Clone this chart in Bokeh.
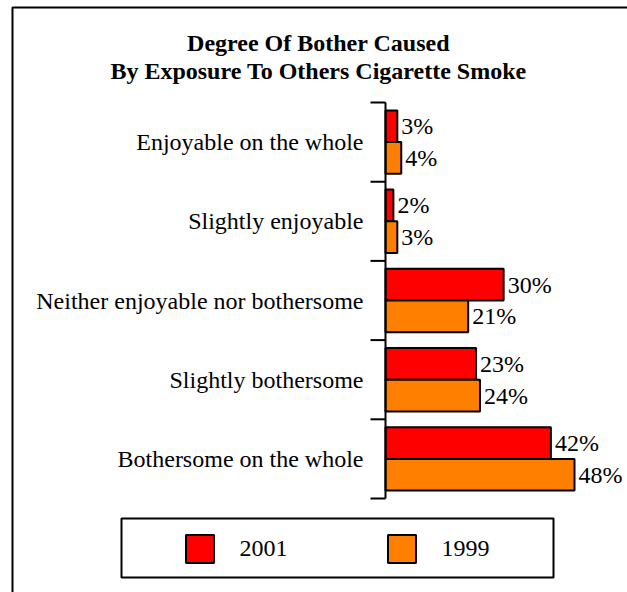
import math
from bokeh.plotting import figure
from bokeh.models import (Range1d, ColumnDataSource, Label, Legend,
                          LegendItem, BoxAnnotation)
from bokeh.core.properties import value
from bokeh.embed import file_html
from bokeh.resources import INLINE

categories = ["Enjoyable on the whole", "Slightly enjoyable",
              "Neither enjoyable nor bothersome", "Slightly bothersome",
              "Bothersome on the whole"]
values_2001 = [3, 2, 30, 23, 42]
values_1999 = [4, 3, 21, 24, 48]
series_names = ["2001", "1999"]
title_lines = ["Degree Of Bother Caused", "By Exposure To Others Cigarette Smoke"]

FONT = "Liberation Serif"
RED = "#FF0000"
ORANGE = "#FF8000"

n = len(categories)
centers = [n - 0.5 - i for i in range(n)]

W, H = 627, 592
# pixel geometry of the plotting area (axis at x=385, categories from y=102 to y=498)
AX_X, AX_TOP, AX_BOTTOM = 385, 102, 498
PX_PER_X = 3.9375
PX_PER_Y = (AX_BOTTOM - AX_TOP) / n


def px_to_x(px):
    return (px - AX_X) / PX_PER_X


def px_to_y(py):
    return (AX_BOTTOM - py) / PX_PER_Y


p = figure(width=W, height=H, output_backend="svg", toolbar_location=None,
           x_range=Range1d(px_to_x(0), px_to_x(W)),
           y_range=Range1d(px_to_y(H), px_to_y(0)),
           x_axis_location=None, y_axis_location=None, min_border=0)
p.outline_line_color = None
p.grid.visible = False
p.background_fill_color = "white"
p.border_fill_color = "white"

src = ColumnDataSource(dict(
    y21=[c + 0.2 for c in centers],
    y99=[c - 0.2 for c in centers],
    v21=values_2001,
    v99=values_1999,
    t21=[f"{v}%" for v in values_2001],
    t99=[f"{v}%" for v in values_1999],
))

r21 = p.hbar(y="y21", left=0, right="v21", height=0.4, source=src,
             fill_color=RED, line_color="black", line_width=2)
r99 = p.hbar(y="y99", left=0, right="v99", height=0.4, source=src,
             fill_color=ORANGE, line_color="black", line_width=2)

for ycol, tcol, vcol in (("y21", "t21", "v21"), ("y99", "t99", "v99")):
    p.text(x=vcol, y=ycol, text=tcol, source=src, x_offset=4,
           text_baseline="middle", text_align="left",
           text_font=value(FONT), text_font_size="24px", text_color="black")

# category axis: line, boundary ticks and labels
cat_src = ColumnDataSource(dict(y=centers, label=categories))
p.text(x=0, y="y", text="label", source=cat_src, x_offset=-22,
       text_align="right", text_baseline="middle",
       text_font=value(FONT), text_font_size="24px", text_color="black")
p.segment(x0=0, y0=0, x1=0, y1=n, line_color="black", line_width=2)
p.ray(x=0, y=list(range(n + 1)), length=15, length_units="screen",
      angle=math.pi, line_color="black", line_width=2)

# Title
for ty, line in zip((42, 70), title_lines):
    p.add_layout(Label(x=px_to_x(318), y=px_to_y(ty), text=line,
                       text_align="center", text_baseline="alphabetic",
                       text_font=FONT, text_font_style="bold",
                       text_font_size="24px", text_color="black"))

# Outer frame (left and top edges visible)
p.add_layout(BoxAnnotation(left=px_to_x(12), top=px_to_y(7),
                           right=px_to_x(W + 50), bottom=px_to_y(H + 50),
                           fill_alpha=0, line_color="black", line_alpha=1,
                           line_width=2))

# Legend box
p.add_layout(BoxAnnotation(left=px_to_x(121), right=px_to_x(553),
                           top=px_to_y(518), bottom=px_to_y(577),
                           fill_alpha=0, line_color="black", line_alpha=1,
                           line_width=2))

legend = Legend(items=[LegendItem(label=series_names[0], renderers=[r21]),
                       LegendItem(label=series_names[1], renderers=[r99])],
                orientation="horizontal",
                location=(181.5, H - 565.5),
                padding=0, margin=0, spacing=0,
                glyph_width=35, glyph_height=35, label_height=35,
                label_width=144, label_standoff=23,
                label_text_font=FONT, label_text_font_size="24px",
                label_text_color="black",
                border_line_color=None, background_fill_alpha=0)
p.add_layout(legend)

open("out.html", "w").write(file_html(p, INLINE))
